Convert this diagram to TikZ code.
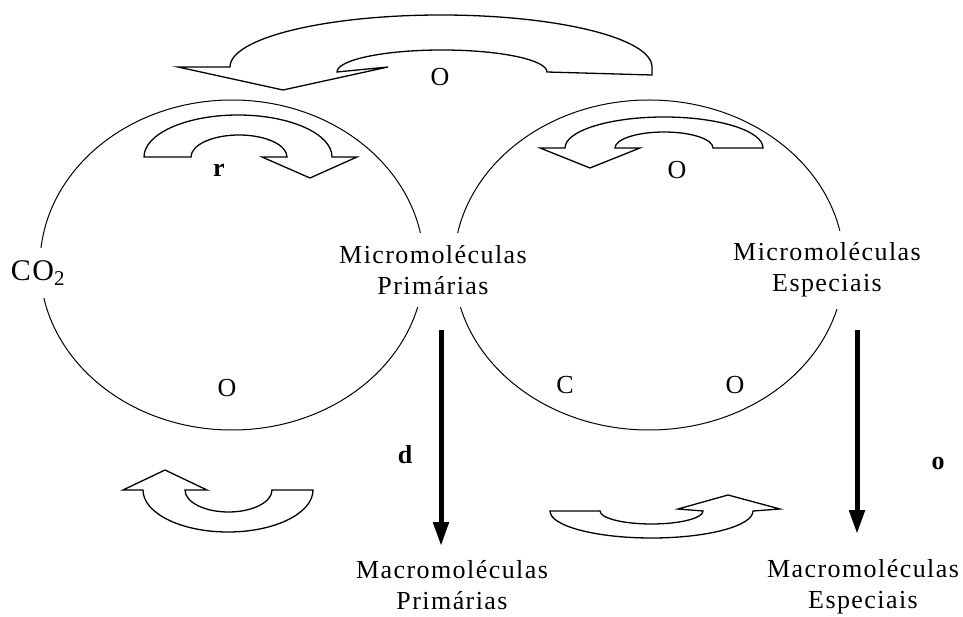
\documentclass[tikz,border=0pt]{standalone}
\usepackage{fontspec}
\setmainfont{Liberation Serif}[LetterSpace=5.5]
\usetikzlibrary{arrows.meta}
\begin{document}
\begin{tikzpicture}[x=1pt,y=1pt,
  orbit/.style={draw, line width=1pt},
  blockarrow/.style={draw, line width=1.3pt, fill=white, line join=miter},
  lbl/.style={font=\fontsize{26}{31}\selectfont, align=center, inner sep=0pt},
  cover/.style={lbl, fill=white, inner xsep=4pt, inner ysep=12pt},
  boldlbl/.style={font=\fontsize{26}{31}\selectfont\bfseries, inner sep=0pt},
  vert/.style={line width=5pt, -{Triangle[length=24pt,width=15pt]}}
]
\useasboundingbox (0,0) rectangle (963,616);
% the two cycles
\draw[orbit] (232,351) ellipse [x radius=192, y radius=165];
\draw[orbit] (649,351) ellipse [x radius=195, y radius=165];

% curved block arrows
% top big arrow (from right ellipse to left ellipse)
\draw[blockarrow] (230,549) arc[start angle=180, end angle=0, x radius=211, y radius=52]
  -- (652,541) -- (547,544)
  arc[start angle=0, end angle=180, x radius=105, y radius=22]
  -- (388,549) -- (283,526) -- (178,549) -- cycle;
% "r" arrow in left ellipse
\draw[blockarrow] (144,459) arc[start angle=180, end angle=0, x radius=94, y radius=42]
  -- (357,459) -- (310,438) -- (262,459) -- (287,459)
  arc[start angle=0, end angle=180, x radius=48, y radius=22] -- cycle;
% arrow in right ellipse
\draw[blockarrow] (565,468) arc[start angle=180, end angle=0, x radius=99, y radius=31]
  -- (713,468)
  arc[start angle=0, end angle=180, x radius=49, y radius=16]
  -- (640,468) -- (590,448) -- (540,468) -- cycle;
% bottom left arrow
\draw[blockarrow] (143,126) arc[start angle=180, end angle=360, x radius=85, y radius=42]
  -- (272,126)
  arc[start angle=0, end angle=-180, x radius=43.5, y radius=22]
  -- (207,126) -- (165,146) -- (123,126) -- cycle;
% bottom right arrow
\draw[blockarrow] (550,105) arc[start angle=180, end angle=360, x radius=101.5, y radius=27]
  -- (780,107) -- (728,121) -- (678,107) -- (703,105)
  arc[start angle=0, end angle=-180, x radius=51.5, y radius=13] -- cycle;

% labels covering the ellipses
\node[cover, inner xsep=2pt, font=\fontsize{30}{31}\selectfont] (co2) at (38,343) {CO\textsubscript{2}};
\node[cover] (mp) at (433,346) {Micromoléculas\\Primárias};
\node[cover] (ms) at (827,346) {Micromoléculas\\Especiais};
\node[lbl] (Mp) at (452,31) {Macromoléculas\\Primárias};
\node[lbl] (Ms) at (863,29) {Macromoléculas\\Especiais};

% single letters
\node[lbl] (otop) at (440,539) {O};
\node[lbl] (oright) at (677,446) {O};
\node[boldlbl] (r) at (219,446) {r};
\node[lbl] (oleft) at (227,228) {O};
\node[lbl] (c) at (565,231) {C};
\node[lbl] (oc) at (735,231) {O};
\node[boldlbl] (d) at (405,161) {d};
\node[boldlbl] (o) at (938,152) {o};

% vertical arrows
\coordinate (xl) at (441,0);
\coordinate (xr) at (857,0);
\coordinate (ystart) at (0,286);
\coordinate (yendl) at (0,70);
\coordinate (yendr) at (0,82);
\draw[vert] (xl |- ystart) -- (xl |- yendl);
\draw[vert] (xr |- ystart) -- (xr |- yendr);
\end{tikzpicture}
\end{document}
